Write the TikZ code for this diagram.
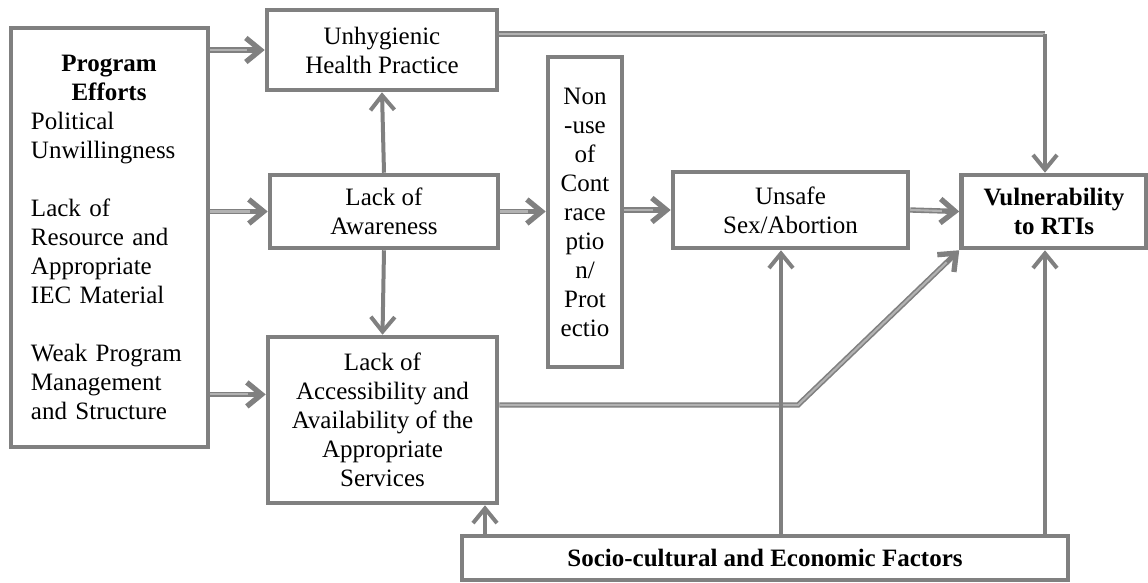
\documentclass[tikz,border=0pt]{standalone}
\usepackage{fontspec}
\setmainfont{Liberation Serif}
\usetikzlibrary{arrows.meta,calc}
\definecolor{grigio}{RGB}{128,128,128}
\definecolor{grigiochiaro}{RGB}{178,178,178}

\begin{document}
\begin{tikzpicture}[x=0.75pt, y=-0.75pt, line width=3pt,
    testo/.style={font=\fontsize{18.75}{21.75}\selectfont},
    scatola/.style={testo, draw=grigio, line width=3.4pt, fill=white, align=center, inner sep=2pt},
    freccia/.style={draw=grigio, line width=3pt, -{Straight Barb[length=11pt, width=18pt]}},
    % linea "retinata" come nell'originale
    retino/.style={draw=grigio, line width=4pt,
        postaction={draw=grigiochiaro, line width=1.6pt, -, shorten >=#1}},
    retino/.default=13pt]

    \useasboundingbox (0,0) rectangle (1148,582);

    % -- Parte Sinistra: Program Efforts --
    \node[scatola, minimum width=147.75pt, minimum height=314.25pt] (prog) at (109.5,237.5) {};
    \node[testo, text width=117pt, align=left, inner sep=0pt, anchor=north] (progtesto) at (109,53)
        {{\centering\bfseries Program\\ Efforts\par}
         Political\\ Unwillingness\\[21.75pt]
         Lack of\\ Resource and\\ Appropriate\\ IEC Material\\[21.75pt]
         Weak Program\\ Management\\ and Structure};

    % -- Colonna centrale --
    \node[scatola, minimum width=172.5pt, minimum height=60pt] (unhyg) at (382,50) {Unhygienic\\ Health Practice};
    \node[scatola, minimum width=171pt, minimum height=54.75pt] (aware) at (384,211.5) {Lack of\\ Awareness};
    \node[scatola, minimum width=171.75pt, minimum height=124.5pt] (access) at (382.5,420)
        {Lack of\\ Accessibility and\\ Availability of the\\ Appropriate\\ Services};

    \node[scatola, minimum width=55.5pt, minimum height=232.5pt, inner sep=0pt] (nonuse) at (585,212)
        {Non\\ -use\\ of\\ Cont\\ race\\ ptio\\ n/\\ Prot\\ ectio};

    % -- Parte Destra --
    \node[scatola, minimum width=176.25pt, minimum height=57pt] (unsafe) at (790.5,210) {Unsafe\\ Sex/Abortion};
    \node[scatola, minimum width=138.75pt, minimum height=54.75pt,
          font=\fontsize{18.75}{21.75}\selectfont\bfseries] (vuln) at (1054,211.5) {Vulnerability\\ to RTIs};

    % Fattori socio-culturali in basso
    \node[scatola, minimum width=454.5pt, minimum height=33pt,
          font=\fontsize{18.75}{21.75}\selectfont\bfseries] (socio) at (765,558)
        {Socio-cultural and Economic Factors};

    % punti di svolta delle linee
    \coordinate (svolta) at (1045,34);
    \coordinate (gomito) at (798,405);
    \coordinate (piedeA) at (485,536);
    \coordinate (piedeB) at (781,536);
    \coordinate (ingresso) at ($(access.north west)!0.35!(access.south west)$);

    % Frecce dal programma
    \draw[freccia, retino] (prog.east |- unhyg.west) -- (unhyg.west);
    \draw[freccia, retino] (prog.east |- aware.west) -- (aware.west);
    \draw[freccia, retino] (prog.east |- ingresso) -- (ingresso);

    \draw[freccia] (aware.north) -- (unhyg.south);
    \draw[freccia] (aware.south) -- (access.north);
    \draw[freccia, retino] (aware.east) -- (aware.east -| nonuse.west);
    \draw[freccia, retino] (unsafe.west -| nonuse.east) -- (unsafe.west);
    \draw[freccia, retino] (unsafe.east) -- (vuln.west);

    % Linee lunghe verso Vulnerability
    \draw[retino=0pt] (unhyg.east |- svolta) -- (svolta);
    \draw[freccia] (svolta) -- (svolta |- vuln.north);
    \draw[freccia, retino] (access.east |- gomito) -- (gomito) -- (vuln.south west);

    % Dal basso
    \draw[freccia] (piedeA) -- (piedeA |- access.south);
    \draw[freccia] (piedeB) -- (piedeB |- unsafe.south);
    \draw[freccia] (svolta |- socio.north) -- (svolta |- vuln.south);
\end{tikzpicture}
\end{document}
